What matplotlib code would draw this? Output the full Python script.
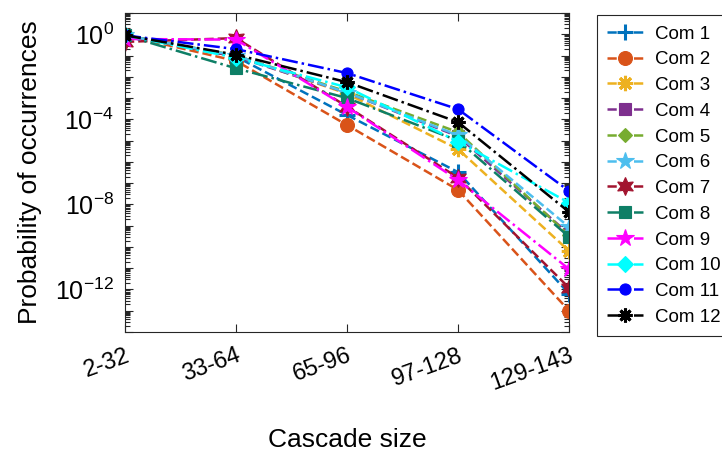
import matplotlib
matplotlib.use("Agg")
import matplotlib.pyplot as plt
from matplotlib.ticker import LogLocator, FixedLocator, NullFormatter, FixedFormatter

plt.rcParams['font.family'] = ['Liberation Sans', 'DejaVu Sans']
plt.rcParams['mathtext.fontset'] = 'custom'
plt.rcParams['mathtext.rm'] = 'Liberation Sans'
plt.rcParams['mathtext.default'] = 'regular'

categories = ["2-32", "33-64", "65-96", "97-128", "129-143"]
series_names = ["Com 1", "Com 2", "Com 3", "Com 4", "Com 5", "Com 6",
                "Com 7", "Com 8", "Com 9", "Com 10", "Com 11", "Com 12"]

com1 = [0.89, 8.9e-2, 1.6e-4, 3.3e-7, 6.3e-13]
com2 = [0.89, 5.6e-2, 5.4e-5, 4.8e-8, 1.0e-13]
com3 = [0.89, 1.0e-1, 1.6e-3, 4.0e-6, 6.5e-11]
com4 = [0.89, 8.9e-2, 1.8e-3, 1.6e-5, 4.0e-10]
com5 = [0.89, 1.0e-1, 2.0e-3, 2.5e-5, 3.5e-10]
com6 = [0.89, 1.0e-1, 1.8e-3, 1.8e-5, 8.7e-10]
com7 = [0.44, 6.6e-1, 4.0e-4, 1.8e-7, 1.2e-12]
com8 = [0.89, 2.5e-2, 1.0e-3, 1.0e-5, 3.0e-10]
com9 = [0.60, 5.6e-1, 3.8e-4, 1.4e-7, 9.1e-12]
com10 = [0.89, 7.9e-2, 3.2e-3, 9.0e-6, 1.2e-8]
com11 = [0.89, 2.0e-1, 1.5e-2, 3.0e-4, 4.3e-8]
com12 = [0.89, 1.1e-1, 5.6e-3, 7.4e-5, 4.4e-9]
all_series = [com1, com2, com3, com4, com5, com6, com7, com8, com9, com10, com11, com12]

colors = ["#0072BD", "#D95319", "#EDB120", "#7E2F8E", "#77AC30", "#4DBEEE",
          "#A2142F", "#0E7F66", "#FF00FF", "#00FFFF", "#0000FF", "#000000"]
asterisk = (8, 2, 0)
hexagram = (6, 1, 0)
markers = ['+', 'o', asterisk, 's', 'D', '*', hexagram, 's', '*', 'D', 'o', asterisk]
msizes = [12, 10, 11, 8, 7, 13, 13, 8, 13, 8, 8, 10]
styles = ['--'] * 7 + ['-.'] * 5

fig = plt.figure(figsize=(7.22, 4.58), dpi=100)
ax = fig.add_axes([0.1731, 0.2751, 0.615, 0.6965])

x = list(range(1, len(categories) + 1))
for vals, name, c, m, ms, ls in zip(all_series, series_names, colors, markers, msizes, styles):
    filled = m not in ('+', asterisk)
    ax.plot(x, vals, linestyle=ls, color=c, lw=1.8, marker=m, markersize=ms,
            markerfacecolor=c if filled else 'none', markeredgecolor=c,
            markeredgewidth=2.2 if not filled else 0.8, label=name)

ax.set_yscale('log')
ax.set_ylim(1e-14, 1e1)
ax.set_xlim(1, 5)
ax.set_xticks(x)
ax.set_xticklabels(categories, rotation=20, ha='right', rotation_mode='anchor')

major = [10.0 ** e for e in range(-14, 2)]
ax.yaxis.set_major_locator(FixedLocator(major))
labels = []
for e in range(-14, 2):
    labels.append(r'$10^{%d}$' % e if e in (0, -4, -8, -12) else '')
ax.yaxis.set_major_formatter(FixedFormatter(labels))
ax.yaxis.set_minor_locator(LogLocator(base=10, subs=[2, 3, 4, 5, 6, 7, 8, 9], numticks=100))
ax.yaxis.set_minor_formatter(NullFormatter())

edge = '#262626'
for s in ax.spines.values():
    s.set_color(edge)
    s.set_linewidth(0.8)
ax.tick_params(axis='both', which='both', direction='in', top=True, right=True,
               color=edge, width=0.8)
ax.tick_params(axis='y', which='major', length=6, labelsize=18, pad=8)
ax.tick_params(axis='y', which='minor', length=3.5)
ax.tick_params(axis='x', which='major', length=6, labelsize=17, pad=9)

ax.set_ylabel('Probability of occurrences', fontsize=19, labelpad=9)
ax.set_xlabel('Cascade size', fontsize=19, labelpad=24)

leg = fig.legend(loc='upper left', bbox_to_anchor=(0.827, 0.967), fontsize=13.5,
                 frameon=True, fancybox=False, edgecolor=edge, framealpha=1,
                 handlelength=1.9, handletextpad=0.65, labelspacing=0.46,
                 borderpad=0.55, borderaxespad=0)
leg.get_frame().set_linewidth(0.8)

fig.savefig('out.png', dpi=100)
